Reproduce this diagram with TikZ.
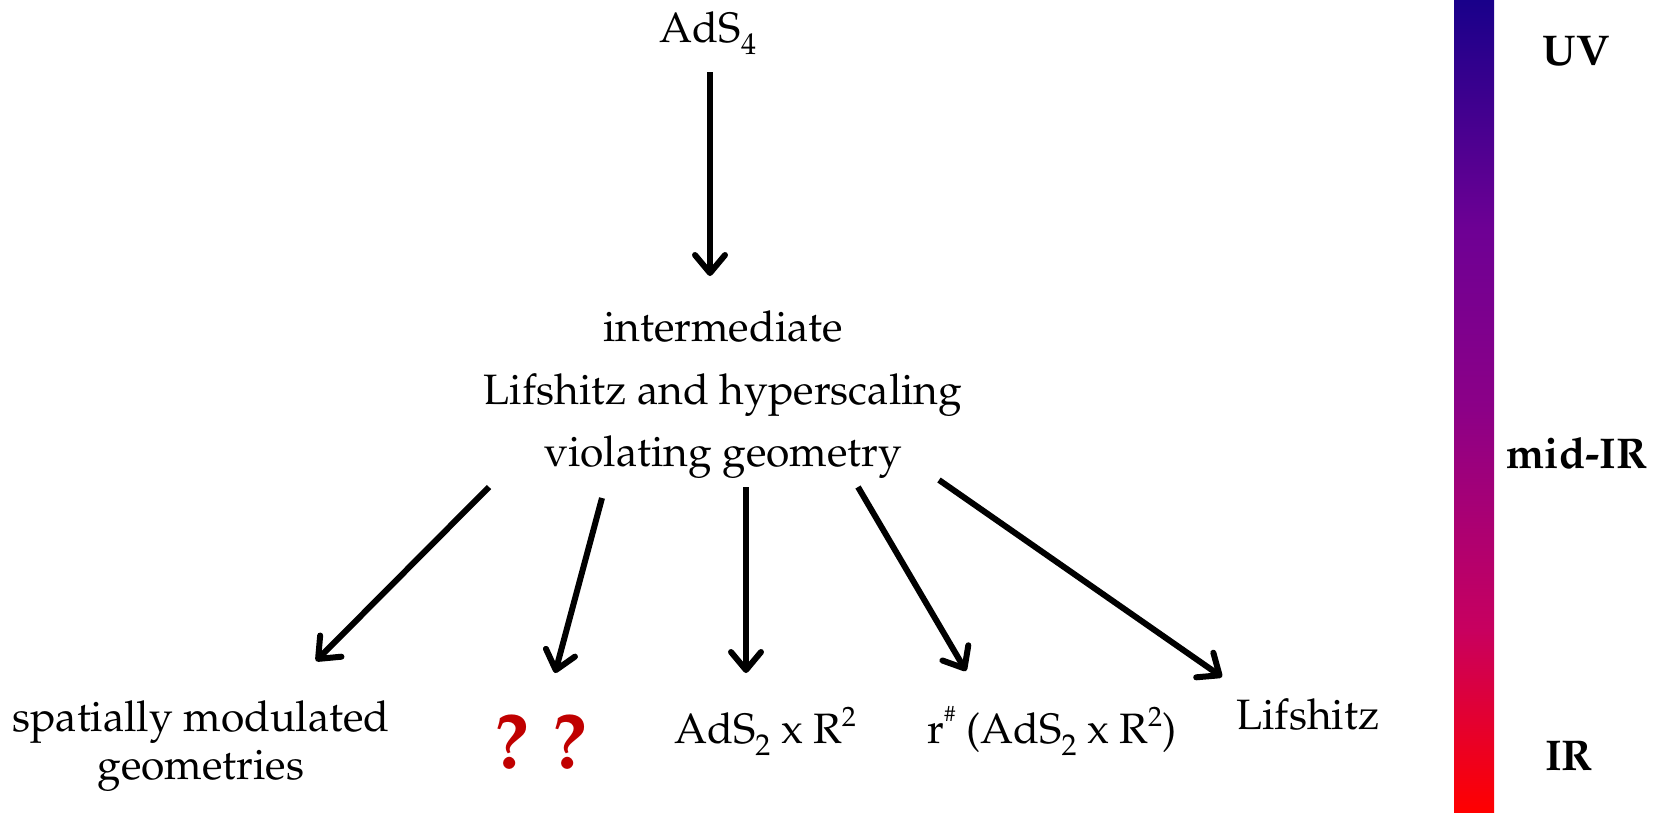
\documentclass[tikz,border=0pt]{standalone}
\usepackage[T1]{fontenc}
\usepackage{mathpazo}
\usetikzlibrary{arrows.meta}
\definecolor{qred}{RGB}{192,0,0}
\definecolor{cbottom}{RGB}{255,0,0}
\definecolor{cb1}{RGB}{200,0,95}
\definecolor{cmid}{RGB}{140,0,135}
\definecolor{cb2}{RGB}{110,0,148}
\definecolor{ctop}{RGB}{25,0,138}
\pgfdeclareverticalshading{uvir}{100bp}{color(0bp)=(cbottom); color(25bp)=(cbottom); color(36.2bp)=(cb1); color(49.8bp)=(cmid); color(60.8bp)=(cb2); color(75bp)=(ctop); color(100bp)=(ctop)}
\newcommand\mysub[1]{\raisebox{-0.3em}{\fontsize{30}{30}\selectfont #1}}
\newcommand\mysup[1]{\raisebox{0.38em}{\fontsize{28}{28}\selectfont #1}}
\newcommand\myhash{\raisebox{0.5em}{\fontsize{22}{22}\selectfont\#}}
\begin{document}
\begin{tikzpicture}[x=1pt,y=-1pt,
  lbl/.style={font=\fontsize{42.5}{60}\selectfont, inner sep=0pt, anchor=base},
  barlbl/.style={lbl, font=\fontsize{43}{60}\selectfont\bfseries},
  arr/.style={line width=6pt, -{Straight Barb[length=18pt,width=30pt,line cap=round,line join=round]}}]
\useasboundingbox (0,0) rectangle (1661,812);
% colour bar
\shade[shading=uvir] (1454,0) rectangle (1494,812);
\node[barlbl] (uv) at (1576,65) {UV};
\node[barlbl] (mid) at (1577,468) {mid-IR};
\node[barlbl] (ir) at (1569,770) {IR};
% nodes
\node[lbl] (ads4) at (708,42) {AdS\mysub{4}};
\node[lbl] (int1) at (723,341) {intermediate};
\node[lbl] (int2) at (723,404) {Lifshitz and hyperscaling};
\node[lbl] (int3) at (723,466) {violating geometry};
\node[lbl] (spat1) at (201,731) {spatially modulated};
\node[lbl] (spat2) at (201,779) {geometries};
\node[lbl, font=\fontsize{78}{82}\selectfont\bfseries, text=qred] (qq) at (541,768) {?\hspace{24pt}?};
\node[lbl] (ads2) at (765,743) {AdS\mysub{2} x R\mysup{2}};
\node[lbl] (rsharp) at (1052,743) {r\myhash\ (AdS\mysub{2} x R\mysup{2})};
\node[lbl] (lif) at (1308,729) {Lifshitz};
% arrow end points
\coordinate (a0) at (710,72);  \coordinate (b0) at (710,276);
\coordinate (a1) at (489,487); \coordinate (b1) at (316,661);
\coordinate (a2) at (602,498); \coordinate (b2) at (555,673);
\coordinate (a3) at (746,487); \coordinate (b3) at (746,673);
\coordinate (a4) at (858,487); \coordinate (b4) at (966,671);
\coordinate (a5) at (939,480); \coordinate (b5) at (1222,677);
\draw[arr] (a0) -- (b0);
\draw[arr] (a1) -- (b1);
\draw[arr] (a2) -- (b2);
\draw[arr] (a3) -- (b3);
\draw[arr] (a4) -- (b4);
\draw[arr] (a5) -- (b5);
\end{tikzpicture}
\end{document}
